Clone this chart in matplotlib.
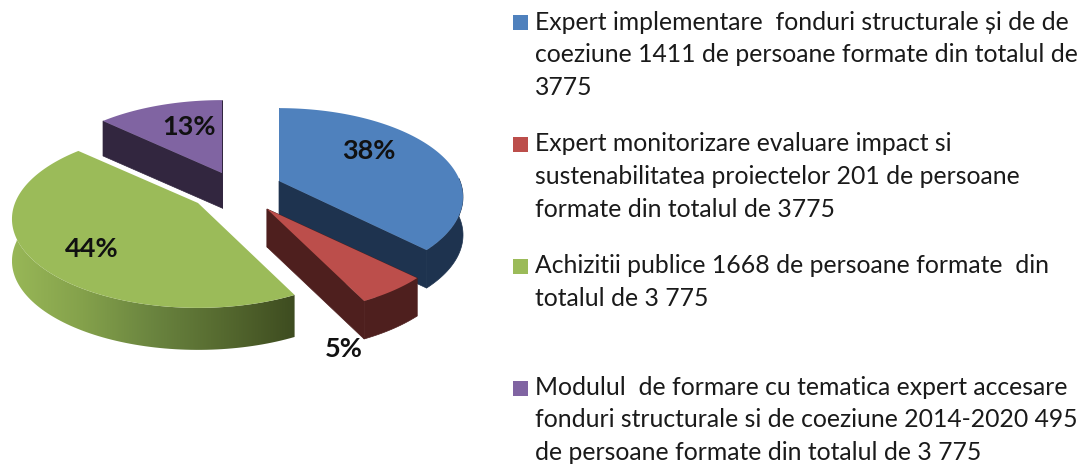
import numpy as np
import matplotlib
matplotlib.use("Agg")
from matplotlib import pyplot as plt
from matplotlib.colors import LinearSegmentedColormap
from matplotlib.patches import Polygon

plt.rcParams["font.family"] = ["Lato", "DejaVu Sans"]

# persoane formate per modul
persons = [1411, 201, 1668, 495]
pct_labels = ["38%", "5%", "44%", "13%"]
legend_lines = [
    ["Expert implementare  fonduri structurale și de de",
     "coeziune 1411 de persoane formate din totalul de",
     "3775"],
    ["Expert monitorizare evaluare impact si",
     "sustenabilitatea proiectelor 201 de persoane",
     "formate din totalul de 3775"],
    ["Achizitii publice 1668 de persoane formate  din",
     "totalul de 3 775"],
    ["Modulul  de formare cu tematica expert accesare",
     "fonduri structurale si de coeziune 2014-2020 495",
     "de persoane formate din totalul de 3 775"],
]

top_colors = ["#4F81BD", "#BC4E4B", "#9BBB59", "#8064A2"]
side_colors = ["#1E334F", "#4E1F1E", None, "#32263F"]
# apex of each exploded slice, in pixels
apex = [(279, 181), (267, 209), (198, 203), (222, 173)]
radius_x = [181, 184, 183, 182]
depth = [38, 38, 42, 35]
pct_pos = [(369, 151), (344, 349), (92, 249), (189, 127)]
legend_base = [[30, 62, 95], [151, 184, 217], [273, 306], [395, 427, 460]]
legend_box = [15, 137, 259, 381]

RY = 86
K = 0.18


def project(theta, i, r=1.0):
    # clockwise from 12 o'clock, with a bit of perspective
    X = r * np.sin(theta)
    Y = -r * np.cos(theta)
    w = 1 - K * Y
    return apex[i][0] + radius_x[i] * X / w, apex[i][1] + RY * Y / w


fig = plt.figure(figsize=(10.85, 4.68), dpi=100)
ax = fig.add_axes([0, 0, 1, 1])
ax.set_xlim(0, 1085)
ax.set_ylim(468, 0)
ax.axis("off")

edges = np.cumsum([0] + persons) / sum(persons) * 2 * np.pi
green_cmap = LinearSegmentedColormap.from_list(
    "green_side", ["#98B757", "#84A14B", "#6A843F", "#55692F", "#3E4C20"])

for i in [3, 0, 1, 2]:
    t = np.linspace(edges[i], edges[i + 1], 120)
    x, y = project(t, i)
    ax0, ay0 = apex[i]
    d = depth[i]

    # cut faces
    if side_colors[i]:
        for e in (0, -1):
            face = [(ax0, ay0), (x[e], y[e]), (x[e], y[e] + d), (ax0, ay0 + d)]
            ax.add_patch(Polygon(face, closed=True, fc=side_colors[i], ec=side_colors[i],
                                 lw=0.5, zorder=2 + i))

    # outer wall, only the front part shows
    front = np.cos(t) < 0.05
    if front.any():
        xf, yf = x[front], y[front]
        wall = np.column_stack([np.r_[xf, xf[::-1]], np.r_[yf, yf[::-1] + d]])
        if side_colors[i]:
            ax.add_patch(Polygon(wall, closed=True, fc=side_colors[i], ec=side_colors[i],
                                 lw=0.5, zorder=2 + i))
        else:
            p = Polygon(wall, closed=True, fc="none", ec="none", zorder=2 + i)
            ax.add_patch(p)
            im = ax.imshow(np.linspace(0, 1, 256).reshape(1, -1), cmap=green_cmap,
                           extent=(xf.min(), xf.max(), 360, 240), aspect="auto", zorder=2 + i)
            im.set_clip_path(p)

    top = np.column_stack([np.r_[ax0, x], np.r_[ay0, y]])
    ax.add_patch(Polygon(top, closed=True, fc=top_colors[i], ec="none", zorder=2.5 + i))

ax.set_xlim(0, 1085)
ax.set_ylim(468, 0)

for lab, (px, py) in zip(pct_labels, pct_pos):
    ax.text(px, py, lab, ha="center", va="center", fontsize=19.5, fontweight="bold",
            color="#111111", zorder=10)

for i, lines in enumerate(legend_lines):
    ax.add_patch(Polygon([(513, legend_box[i]), (528, legend_box[i]),
                          (528, legend_box[i] + 15), (513, legend_box[i] + 15)],
                         closed=True, fc=top_colors[i], ec="none"))
    for line, base in zip(lines, legend_base[i]):
        ax.text(535, base, line, ha="left", va="baseline", fontsize=17.8, color="#1a1a1a")

fig.savefig("out.png", dpi=100)
